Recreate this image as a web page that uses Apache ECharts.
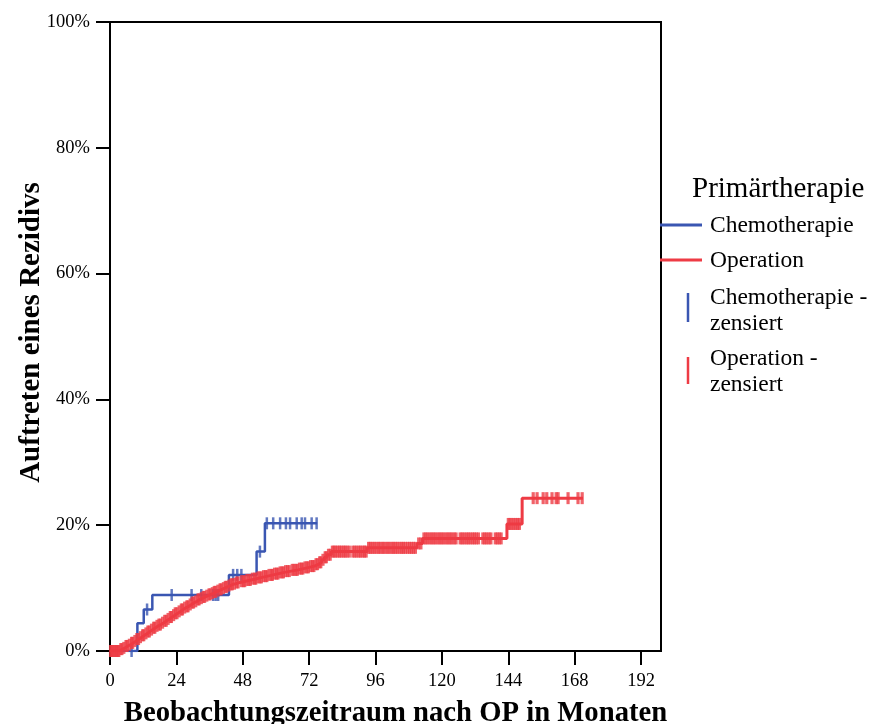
<!DOCTYPE html>
<html>
<head>
<meta charset="utf-8">
<script src="https://cdn.jsdelivr.net/npm/echarts@6/dist/echarts.min.js"></script>
<style>
  html, body { margin: 0; padding: 0; background: #ffffff; }
  #chart { width: 871px; height: 724px; }
</style>
</head>
<body>
<div id="chart"></div>
<script>
// Axis ticks
const monthTicks = [0, 24, 48, 72, 96, 120, 144, 168, 192];
const pctTicks = [0, 20, 40, 60, 80, 100];

// Cumulative recurrence (%) after each event, [month, percent]
const chemoSteps = [
  [0, 0], [9.9, 4.4], [12.2, 6.6], [15.3, 8.9], [43.0, 12.1],
  [53.0, 15.8], [56.0, 20.3], [74.9, 20.3]
];
// Censored follow-up times (months)
const chemoCensored = [
  7.8, 13.4, 22.3, 29.5, 33.0, 37.3, 38.2, 39.1, 44.5, 46.0, 47.5,
  54.2, 56.7, 59.0, 61.5, 63.6, 65.1, 67.5, 69.3, 70.5, 72.9, 74.7
];

const opSteps = [
  [0, 0], [3.5, 0.3], [4.5, 0.5], [5.5, 0.8], [6.5, 1.0], [7.5, 1.3], [8.5, 1.6],
  [9.5, 1.9], [10.5, 2.2], [11.5, 2.5], [12.5, 2.8], [13.5, 3.1], [14.5, 3.4],
  [15.5, 3.7], [16.5, 4.0], [17.5, 4.2], [18.5, 4.5], [19.5, 4.8], [20.5, 5.1],
  [21.5, 5.4], [22.5, 5.7], [23.5, 6.0], [24.5, 6.3], [25.5, 6.6], [26.5, 6.9],
  [27.5, 7.1], [28.5, 7.4], [29.5, 7.7], [30.5, 7.9], [31.5, 8.2], [32.5, 8.4],
  [33.5, 8.6], [34.5, 8.8], [35.5, 9.0], [36.5, 9.2], [37.5, 9.4], [38.5, 9.6],
  [39.5, 9.8], [40.5, 10.0], [41.5, 10.2], [42.5, 10.4], [43.5, 10.6], [44.5, 10.7],
  [45.5, 10.9], [47, 11.1], [49, 11.3], [51, 11.5], [53, 11.7], [55, 11.9],
  [57, 12.1], [59, 12.3], [61, 12.5], [63, 12.7], [65.5, 12.9], [68, 13.1],
  [70, 13.3], [72, 13.5], [74, 13.8], [75.5, 14.1], [76.5, 14.5], [77.5, 14.9],
  [78.5, 15.3], [80, 15.8], [93, 16.4], [111, 17.1], [113, 17.9], [143.5, 20.2],
  [149, 24.3], [171.0, 24.3]
];
const opCensored = [
  0.2, 0.6, 1.0, 1.5, 2.0, 2.4, 2.9,
  3.2, 3.9, 4.3, 5.0, 5.8, 6.2, 7.0, 7.8, 8.2, 9.0, 9.7, 10.3, 11.0, 11.8, 12.2,
  13.0, 13.7, 14.2, 15.0, 15.8, 16.2, 17.0, 17.7, 18.2, 19.0, 19.8, 20.3, 21.0,
  21.8, 22.2, 23.0, 23.6, 24.2, 25.0, 25.8, 26.2, 27.0, 27.8, 28.2, 29.0, 29.7,
  30.2, 31.0, 31.8, 32.2, 33.0, 33.7, 34.2, 35.0, 35.8, 36.2, 37.0, 37.7, 38.2,
  39.0, 39.8, 40.2, 41.0, 41.7, 42.2, 43.0, 43.8, 44.2, 45.0, 45.8, 46.3, 47.5,
  48.2, 48.7, 49.5, 50.2, 50.7, 51.5, 52.3, 52.7, 53.5, 54.2, 54.7, 55.5, 56.2,
  56.7, 57.5, 58.3, 58.7, 59.5, 60.2, 60.7, 61.5, 62.2, 62.7, 63.5, 64.2, 64.8,
  65.9, 66.5, 67.2, 67.7, 68.5, 69.2, 69.7, 70.5, 71.2, 71.7, 72.5, 73.2, 73.7,
  74.5, 75.0, 75.8, 76.2, 77.0, 77.8, 78.2, 79.0, 79.6, 80.4, 81.0, 81.6, 82.3,
  83.0, 83.6, 84.4, 85.0, 85.7, 86.5, 87.8, 88.5, 89.2, 90.0, 90.6, 91.4, 92.0,
  92.6, 93.5, 94.1, 94.8, 95.5, 96.2, 97.0, 97.6, 98.4, 99.0, 99.8, 100.5, 101.2,
  102.0, 102.6, 103.3, 104.0, 104.8, 105.5, 106.1, 106.8, 107.6, 108.3, 109.0,
  109.7, 110.4, 111.6, 112.4, 113.5, 114.2, 114.9, 115.7, 116.4, 117.1, 117.8,
  118.6, 119.3, 120.0, 120.7, 121.5, 122.2, 122.9, 123.6, 124.4, 125.1, 126.6,
  127.3, 128.0, 128.8, 129.5, 130.2, 131.0, 131.7, 132.4, 133.2, 134.8, 135.5,
  136.2, 137.0, 137.7, 139.3, 140.0, 140.7, 141.4, 144.0, 144.6, 145.3, 146.0,
  146.7, 147.4, 148.0, 153.0, 154.4, 156.6, 157.9, 159.8, 161.3, 162.0, 165.6,
  169.2, 170.7
];

const BLUE = '#3a56b2';
const RED = '#ee3b44';
const FONT = '"Liberation Serif", "Times New Roman", serif';

// Curve value in effect at time t (step function)
function valueAt(steps, t) {
  let v = steps[0][1];
  for (const [m, p] of steps) {
    if (m <= t) v = p; else break;
  }
  return v;
}
const censorPoints = (steps, times) => times.map(t => [t, valueAt(steps, t)]);

const chart = echarts.init(document.getElementById('chart'), null, { renderer: 'canvas' });

const legendX = 660;
chart.setOption({
  animation: false,
  backgroundColor: '#ffffff',
  grid: {
    left: 110, top: 22, width: 551, height: 629,
    outerBoundsMode: 'none', containLabel: false,
    show: true, borderColor: '#000', borderWidth: 2, backgroundColor: 'transparent'
  },
  xAxis: {
    type: 'value', min: 0, max: 199.2, interval: 24,
    name: 'Beobachtungszeitraum nach OP in Monaten',
    nameLocation: 'middle', nameGap: 48, nameMoveOverlap: false,
    nameTextStyle: { fontFamily: FONT, fontSize: 28.7, fontWeight: 'bold', color: '#000', padding: [0, 0, 0, 20] },
    axisLine: { show: true, lineStyle: { color: '#000', width: 2 } },
    axisTick: { show: true, length: 14, lineStyle: { color: '#000', width: 2 }, customValues: monthTicks },
    axisLabel: { fontFamily: FONT, fontSize: 18.5, color: '#000', margin: 21, customValues: monthTicks },
    splitLine: { show: false }
  },
  yAxis: {
    type: 'value', min: 0, max: 100, interval: 20,
    name: 'Auftreten eines Rezidivs',
    nameLocation: 'middle', nameGap: 64, nameMoveOverlap: false,
    nameTextStyle: { fontFamily: FONT, fontSize: 29, fontWeight: 'bold', color: '#000', padding: [0, 0, 0, 8] },
    axisLine: { show: true, lineStyle: { color: '#000', width: 2 } },
    axisTick: { show: true, length: 14, lineStyle: { color: '#000', width: 2 }, customValues: pctTicks },
    axisLabel: { fontFamily: FONT, fontSize: 18.5, color: '#000', margin: 20, formatter: '{value}%', customValues: pctTicks },
    splitLine: { show: false }
  },
  series: [
    {
      name: 'Chemotherapie', type: 'line', step: 'end', data: chemoSteps,
      showSymbol: false, silent: true, z: 2,
      lineStyle: { color: BLUE, width: 2.5 }
    },
    {
      name: 'Chemotherapie - zensiert', type: 'scatter', silent: true, z: 3,
      data: censorPoints(chemoSteps, chemoCensored),
      symbol: 'rect', symbolSize: [2.5, 12], itemStyle: { color: BLUE }
    },
    {
      name: 'Operation', type: 'line', step: 'end', data: opSteps,
      showSymbol: false, silent: true, z: 4,
      lineStyle: { color: RED, width: 3 }
    },
    {
      name: 'Operation - zensiert', type: 'scatter', silent: true, z: 5,
      data: censorPoints(opSteps, opCensored),
      symbol: 'rect', symbolSize: [3.2, 12], itemStyle: { color: RED }
    }
  ],
  graphic: [
    { type: 'text', left: 692, top: 175, style: { text: 'Primärtherapie', font: '29px ' + FONT, fill: '#000' } },
    { type: 'line', shape: { x1: legendX, y1: 225, x2: legendX + 42, y2: 225 }, style: { stroke: BLUE, lineWidth: 3 } },
    { type: 'text', left: 710, top: 214, style: { text: 'Chemotherapie', font: '23.5px ' + FONT, fill: '#000' } },
    { type: 'line', shape: { x1: legendX, y1: 260, x2: legendX + 42, y2: 260 }, style: { stroke: RED, lineWidth: 3 } },
    { type: 'text', left: 710, top: 249, style: { text: 'Operation', font: '23.5px ' + FONT, fill: '#000' } },
    { type: 'line', shape: { x1: 688, y1: 293, x2: 688, y2: 322 }, style: { stroke: BLUE, lineWidth: 2.5 } },
    { type: 'text', left: 710, top: 285, style: { text: 'Chemotherapie -\nzensiert', font: '23.5px ' + FONT, fill: '#000', lineHeight: 26 } },
    { type: 'line', shape: { x1: 688, y1: 357, x2: 688, y2: 384 }, style: { stroke: RED, lineWidth: 2.5 } },
    { type: 'text', left: 710, top: 346, style: { text: 'Operation -\nzensiert', font: '23.5px ' + FONT, fill: '#000', lineHeight: 26 } }
  ]
});
</script>
</body>
</html>
